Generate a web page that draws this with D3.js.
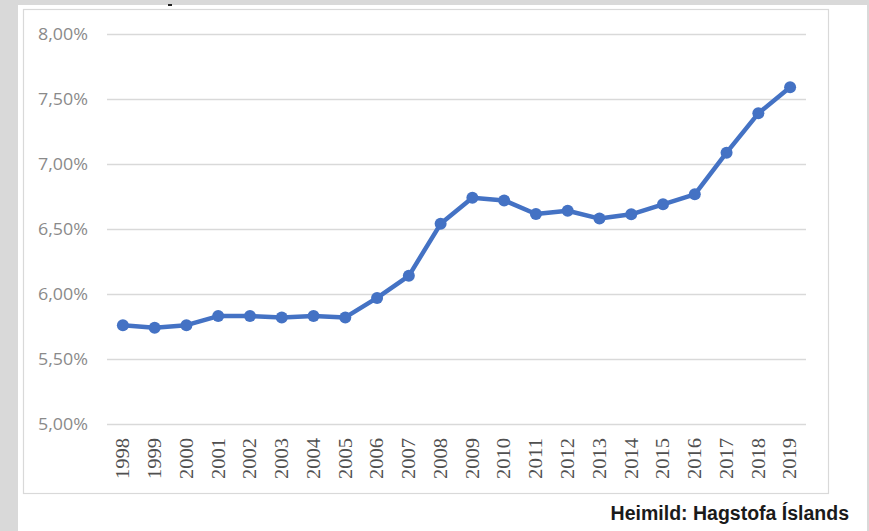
<!DOCTYPE html>
<html><head><meta charset="utf-8">
<script src="https://cdn.jsdelivr.net/npm/d3@7"></script>
<style>html,body{margin:0;padding:0;background:#d9d9d9;}svg{display:block;}</style>
</head><body>
<script>
const years = ["1998","1999","2000","2001","2002","2003","2004","2005","2006","2007","2008","2009","2010","2011","2012","2013","2014","2015","2016","2017","2018","2019"];
const values = [5.76,5.74,5.76,5.83,5.83,5.82,5.83,5.82,5.97,6.14,6.54,6.74,6.72,6.615,6.64,6.58,6.613,6.69,6.767,7.087,7.39,7.59];
const yTicks = [5.0,5.5,6.0,6.5,7.0,7.5,8.0];
const sourceText = "Heimild: Hagstofa Íslands";

const W = 869, H = 531;
const svg = d3.select("body").append("svg").attr("width", W).attr("height", H);
svg.append("rect").attr("width", W).attr("height", H).attr("fill", "#d9d9d9");
svg.append("rect").attr("x", 18).attr("y", 5).attr("width", 849).attr("height", 526).attr("fill", "#ffffff");
svg.append("rect").attr("x", 23.5).attr("y", 9.5).attr("width", 805).attr("height", 484).attr("fill", "#ffffff").attr("stroke", "#d9d9d9").attr("stroke-width", 1.2);
// small cropped title remnant
svg.append("rect").attr("x", 168).attr("y", 4).attr("width", 4).attr("height", 2).attr("fill", "#222");

const x = d3.scaleBand().domain(years).range([107, 806]);
const y = d3.scaleLinear().domain([5, 8]).range([424, 34]);

const fmt = v => v.toFixed(2).replace(".", ",") + "%";

// gridlines
const yAxis = d3.axisLeft(y).tickValues(yTicks).tickSize(-(806 - 107)).tickFormat(fmt).tickPadding(19);
const gy = svg.append("g").attr("transform", "translate(107,0)").call(yAxis);
gy.select(".domain").remove();
gy.selectAll(".tick line").attr("stroke", "#d9d9d9").attr("stroke-width", 1.5);
gy.selectAll(".tick text").attr("fill", "#8a8a8a").attr("font-family", "'Open Sans', sans-serif").attr("font-size", 17).attr("x", -19)
  .attr("textLength", 50).attr("lengthAdjust", "spacingAndGlyphs");

// x axis labels
const xAxis = d3.axisBottom(x).tickSize(0).tickPadding(0);
const gx = svg.append("g").attr("transform", "translate(0,424)").call(xAxis);
gx.select(".domain").remove();
gx.selectAll(".tick text")
  .attr("transform", "rotate(-90)")
  .attr("x", -14).attr("y", 0).attr("dy", "0.35em")
  .attr("text-anchor", "end")
  .attr("fill", "#505050")
  .attr("font-family", "'Liberation Serif', serif")
  .attr("font-size", 18)
  .attr("textLength", 41).attr("lengthAdjust", "spacingAndGlyphs");

const cx = d => x(d) + x.bandwidth() / 2;
const line = d3.line().x((d, i) => cx(years[i])).y(d => y(d));
svg.append("path").datum(values).attr("d", line).attr("fill", "none").attr("stroke", "#4472c4").attr("stroke-width", 4.5).attr("stroke-linejoin", "round");
svg.selectAll("circle.pt").data(values).enter().append("circle").attr("class", "pt")
  .attr("cx", (d, i) => cx(years[i])).attr("cy", d => y(d)).attr("r", 6).attr("fill", "#4472c4");

svg.append("text").attr("x", 849).attr("y", 520).attr("text-anchor", "end")
  .attr("font-family", "'Liberation Sans', Arial, sans-serif").attr("font-weight", "bold").attr("font-size", 19.5)
  .attr("fill", "#1a1a1a").text(sourceText);
</script>
</body></html>
